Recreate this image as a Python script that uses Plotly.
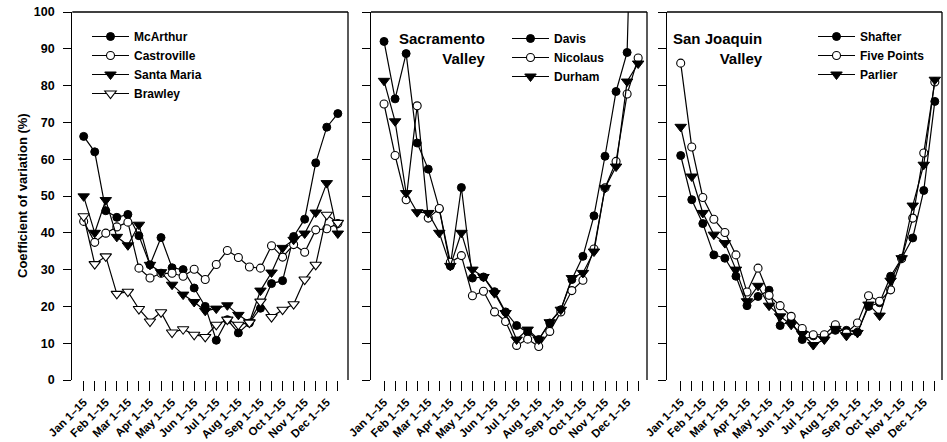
import plotly.graph_objects as go

# ---------------- data ----------------
half_months = [
    "Jan 1–15", "Jan 16–31", "Feb 1–15", "Feb 16–28", "Mar 1–15", "Mar 16–31",
    "Apr 1–15", "Apr 16–30", "May 1–15", "May 16–31", "Jun 1–15", "Jun 16–30",
    "Jul 1–15", "Jul 16–31", "Aug 1–15", "Aug 16–31", "Sep 1–15", "Sep 16–30",
    "Oct 1–15", "Oct 16–31", "Nov 1–15", "Nov 16–30", "Dec 1–15", "Dec 16–31",
]
tick_labels = [lbl if lbl.endswith(" 1–15") else "" for lbl in half_months]
y_ticks = [0, 10, 20, 30, 40, 50, 60, 70, 80, 90, 100]

# Panel 1
mcarthur = [66.2, 62.0, 46.0, 44.2, 45.0, 39.2, 31.3, 38.7, 30.5, 30.0, 25.0, 20.0,
            10.8, 16.4, 12.8, 15.5, 19.5, 26.2, 27.0, 39.0, 43.7, 59.0, 68.7, 72.4]
castroville = [43.1, 37.4, 39.9, 41.6, 42.9, 30.4, 27.7, 29.0, 29.0, 28.2, 30.1, 27.3,
               31.4, 35.2, 33.3, 30.7, 30.4, 36.5, 33.4, 36.8, 34.7, 40.8, 41.1, 42.5]
santa_maria = [49.9, 40.0, 48.9, 38.9, 36.6, 42.2, 31.3, 29.3, 25.9, 23.2, 21.2, 18.8,
               19.4, 20.3, 17.7, 15.7, 24.3, 29.2, 35.9, 38.1, 39.8, 45.5, 53.5, 39.8]
brawley = [44.5, 31.5, 33.6, 23.4, 24.0, 19.3, 15.9, 18.4, 12.9, 13.8, 12.3, 11.7,
           15.0, 16.4, 15.0, 15.6, 21.3, 17.1, 19.1, 20.6, 27.3, 31.3, 44.9, 42.7]

# Panel 2 (Sacramento Valley)
davis = [92.0, 76.4, 88.7, 64.4, 57.3, 46.5, 31.0, 52.3, 27.7, 28.0, 24.0, 18.5,
         14.8, 13.0, 11.0, 15.5, 19.1, 27.3, 33.6, 44.6, 60.8, 78.4, 89.0, 200.0]
nicolaus = [75.0, 61.0, 49.0, 74.5, 44.0, 46.6, 32.0, 33.8, 22.9, 24.1, 18.5, 15.9,
            9.4, 11.1, 9.1, 13.2, 18.5, 24.3, 27.1, 35.6, 52.2, 59.4, 77.7, 87.5]
durham = [81.3, 70.3, 50.8, 45.6, 45.4, 40.0, 31.0, 40.0, 30.0, 28.0, 23.6, 18.2,
          11.0, 13.7, 11.0, 15.7, 19.1, 27.7, 29.1, 34.9, 52.2, 58.0, 81.1, 86.0]

# Panel 3 (San Joaquin Valley)
shafter = [61.0, 49.0, 42.5, 34.0, 33.1, 28.2, 20.2, 22.7, 24.4, 14.8, 16.0, 11.0,
           12.0, 11.5, 13.5, 13.5, 13.0, 20.0, 21.0, 28.2, 33.1, 38.6, 51.5, 75.7]
five_points = [86.1, 63.3, 49.6, 43.7, 40.1, 34.0, 23.9, 30.4, 23.0, 20.2, 17.3, 14.0,
               12.3, 12.3, 15.0, 12.8, 15.5, 22.9, 21.4, 24.5, 33.0, 44.0, 61.7, 81.0]
parlier = [68.8, 55.3, 45.4, 39.5, 37.2, 30.0, 21.4, 25.6, 20.2, 17.3, 15.0, 12.5,
           9.5, 11.0, 13.9, 12.0, 12.8, 20.5, 17.5, 27.0, 33.1, 47.4, 58.5, 81.6]

x_idx = list(range(len(half_months)))

# ---------------- styling ----------------
W, H = 947, 442
FONT = "Liberation Sans, Arial, Helvetica, sans-serif"
STY = {
    "filled_circle": dict(symbol="circle", size=8, color="black",
                          line=dict(color="black", width=1)),
    "open_circle": dict(symbol="circle", size=8, color="white",
                        line=dict(color="black", width=1.1)),
    "filled_tri": dict(symbol="triangle-down", size=10, color="black",
                       line=dict(color="black", width=1)),
    "open_tri": dict(symbol="triangle-down", size=10, color="white",
                     line=dict(color="black", width=1.1)),
}

panels = [
    ("x", "y", "legend", [("McArthur", mcarthur, "filled_circle"),
                          ("Castroville", castroville, "open_circle"),
                          ("Santa Maria", santa_maria, "filled_tri"),
                          ("Brawley", brawley, "open_tri")]),
    ("x2", "y2", "legend2", [("Davis", davis, "filled_circle"),
                             ("Nicolaus", nicolaus, "open_circle"),
                             ("Durham", durham, "filled_tri")]),
    ("x3", "y3", "legend3", [("Shafter", shafter, "filled_circle"),
                             ("Five Points", five_points, "open_circle"),
                             ("Parlier", parlier, "filled_tri")]),
]

fig = go.Figure()
for xa, ya, lg, series in panels:
    for name, vals, sty in series:
        fig.add_trace(go.Scatter(
            x=x_idx, y=vals, name=name, mode="lines+markers",
            xaxis=xa, yaxis=ya, legend=lg,
            line=dict(color="black", width=1.2),
            marker=STY[sty],
        ))

def px_x(p):
    return p / W

top_px, bot_px = 12, 380
plot_h = bot_px - top_px

def py(p):
    return (bot_px - p) / plot_h

domains = [(72.3, 348.0), (371.0, 647.0), (667.0, 942.0)]
xranges = [(-1.03, 23.92), (-1.18, 23.8), (-1.24, 23.65)]

tickfont = dict(family=FONT, size=11.5, color="black", weight="bold")
layout = dict(
    width=W, height=H,
    margin=dict(l=0, r=0, t=top_px, b=H - bot_px, pad=0),
    paper_bgcolor="white", plot_bgcolor="white",
    font=dict(family=FONT, color="black", weight="bold"),
    showlegend=True,
)
for k, ((d0, d1), (r0, r1)) in enumerate(zip(domains, xranges)):
    sfx = "" if k == 0 else str(k + 1)
    layout["xaxis" + sfx] = dict(
        domain=[px_x(d0), px_x(d1)], range=[r0, r1],
        anchor="y" + sfx,
        tickmode="array", tickvals=x_idx, ticktext=tick_labels,
        tickangle=-45, ticks="outside", ticklen=10, tickwidth=1.2,
        tickcolor="black", tickfont=tickfont,
        showline=False, showgrid=False, zeroline=False, automargin=False,
    )
    layout["yaxis" + sfx] = dict(
        domain=[0, 1], range=[0, 100], anchor="x" + sfx,
        tickmode="array", tickvals=y_ticks,
        ticks="outside", ticklen=8, tickwidth=1.2, tickcolor="black",
        showticklabels=(k == 0),
        tickfont=dict(family=FONT, size=12.5, color="black", weight="bold"),
        ticklabelstandoff=6,
        showline=True, linecolor="black", linewidth=1.3,
        showgrid=False, zeroline=False, automargin=False,
    )

legend_common = dict(
    bgcolor="rgba(0,0,0,0)", borderwidth=0, xanchor="left", yanchor="top",
    font=dict(family=FONT, size=12, color="black", weight="bold"),
    itemclick=False, itemdoubleclick=False, itemwidth=37,
)
layout["legend"] = dict(legend_common, x=px_x(87), y=py(22))
layout["legend2"] = dict(legend_common, x=px_x(507), y=py(24))
layout["legend3"] = dict(legend_common, x=px_x(813), y=py(22))

shapes = []
for k in range(3):
    sfx = "" if k == 0 else str(k + 1)
    xr, yr = "x" + sfx + " domain", "y" + sfx + " domain"
    shapes.append(dict(type="line", xref=xr, yref=yr, x0=0, x1=1, y0=1, y1=1,
                       line=dict(color="black", width=1.3)))
    shapes.append(dict(type="line", xref=xr, yref=yr, x0=1, x1=1, y0=0, y1=1,
                       line=dict(color="black", width=1.3)))
layout["shapes"] = shapes

layout["annotations"] = [
    dict(text="Coefficient of variation (%)", xref="paper", yref="paper",
         x=px_x(22), y=py(196), textangle=-90, showarrow=False,
         xanchor="center", yanchor="middle",
         font=dict(family=FONT, size=13, color="black", weight="bold")),
    dict(text="Sacramento<br>Valley", xref="paper", yref="paper",
         x=px_x(488), y=py(28), showarrow=False, xanchor="right", yanchor="top",
         align="right", font=dict(family=FONT, size=15, color="black", weight="bold")),
    dict(text="San Joaquin<br>Valley", xref="paper", yref="paper",
         x=px_x(765), y=py(28), showarrow=False, xanchor="right", yanchor="top",
         align="right", font=dict(family=FONT, size=15, color="black", weight="bold")),
]

fig.update_layout(**layout)
fig.write_html("out.html")
